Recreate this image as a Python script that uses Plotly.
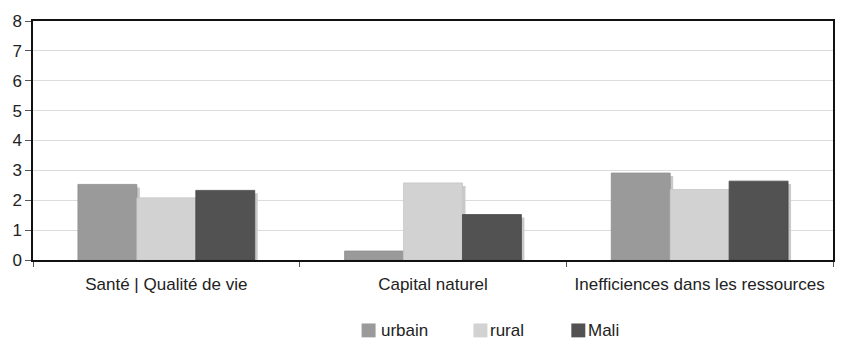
import plotly.graph_objects as go

# Indicator scores by domain, for urban, rural and national (Mali) figures
categories = ["Santé | Qualité de vie", "Capital naturel", "Inefficiences dans les ressources"]
series_names = ["urbain", "rural", "Mali"]
urbain = [2.53, 0.30, 2.91]
rural = [2.08, 2.58, 2.36]
mali = [2.33, 1.52, 2.64]
y_ticks = [0, 1, 2, 3, 4, 5, 6, 7, 8]

values = [urbain, rural, mali]
colors = ["#9a9a9a", "#d2d2d2", "#525252"]
edges = ["#8e8e8e", "#c6c6c6", "#474747"]
shadow_color = "#c9c9c9"

W, H = 862, 353
ML, MR, MT, MB = 32, 29, 19, 93
PW, PH = W - ML - MR, H - MT - MB

bar_w = 0.221
offsets = [-1.5 * bar_w, -0.5 * bar_w, 0.5 * bar_w]
sh_dx = 3.0 / PW * 3      # 3 px to the right, in category units
sh_dy = 3.0 / PH * 8      # 3 px down, in value units

font = dict(family="Liberation Sans, Arial, sans-serif", size=17, color="#222222")

fig = go.Figure()

# drop shadows behind every bar
for vals, off in zip(values, offsets):
    fig.add_trace(go.Bar(
        x=categories, y=[max(v - sh_dy, 0) for v in vals],
        offset=off + sh_dx, width=bar_w,
        marker=dict(color=shadow_color, line=dict(width=0)),
        showlegend=False, hoverinfo="skip",
    ))

for name, vals, off, c, e in zip(series_names, values, offsets, colors, edges):
    fig.add_trace(go.Bar(
        x=categories, y=vals, name=name,
        offset=off, width=bar_w,
        marker=dict(color=c, line=dict(color=e, width=0.8)),
        showlegend=False,
    ))


def px_x(p):
    return (p - ML) / PW


def px_y(p):
    return (H - MB - p) / PH


# legend drawn below the plot: swatch + label for each series
legend_items = [(361, 379), (473, 489), (571, 587)]
shapes = []
annotations = []
for (sq_x, tx_x), name, c in zip(legend_items, series_names, colors):
    shapes.append(dict(
        type="rect", xref="paper", yref="paper",
        x0=px_x(sq_x), x1=px_x(sq_x + 14), y0=px_y(338), y1=px_y(324),
        fillcolor=c, line=dict(width=0),
    ))
    annotations.append(dict(
        xref="paper", yref="paper", x=px_x(tx_x), y=px_y(331),
        xanchor="left", yanchor="middle", text=name, showarrow=False,
        font=font, borderpad=0,
    ))

fig.update_layout(
    width=W, height=H,
    margin=dict(l=ML, r=MR, t=MT, b=MB),
    paper_bgcolor="white", plot_bgcolor="white",
    barmode="overlay",
    font=font,
    showlegend=False,
    shapes=shapes,
    annotations=annotations,
    xaxis=dict(
        type="category", range=[-0.5, 2.5],
        showgrid=False, showline=True, linecolor="#111111", linewidth=1.5,
        mirror=True, ticks="outside", tickson="boundaries",
        ticklen=5, tickcolor="#555555", tickwidth=1,
        ticklabelstandoff=8, tickfont=font,
    ),
    yaxis=dict(
        range=[0, 8], tickvals=y_ticks, showgrid=True,
        gridcolor="#dcdcdc", gridwidth=1,
        showline=True, linecolor="#111111", linewidth=1.5, mirror=True,
        ticks="outside", ticklen=6, tickcolor="#555555", tickwidth=1,
        tickfont=font, zeroline=False,
    ),
)

fig.write_html("out.html")
